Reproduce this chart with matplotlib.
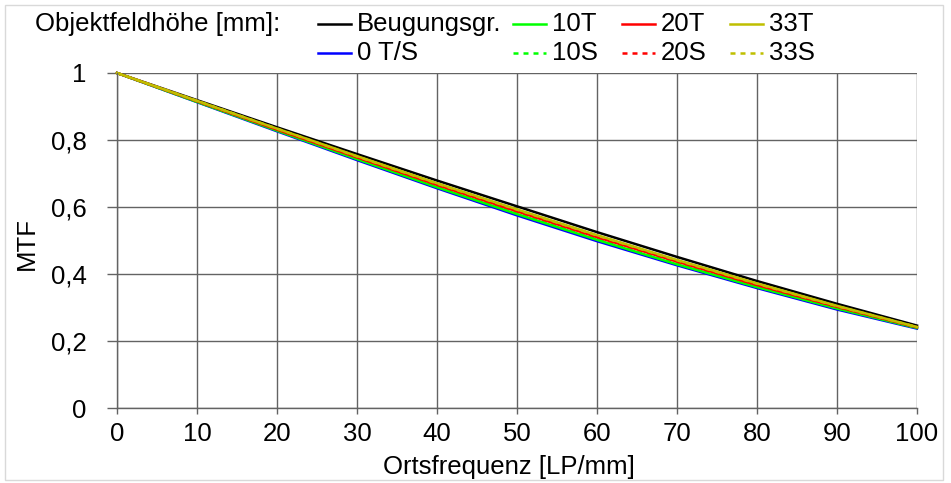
import matplotlib
matplotlib.use("Agg")
import matplotlib.pyplot as plt
from matplotlib.lines import Line2D
from matplotlib.patches import Rectangle

plt.rcParams['font.family'] = ['Liberation Sans', 'DejaVu Sans']

# spatial frequency [LP/mm]
freq = [0, 10, 20, 30, 40, 50, 60, 70, 80, 90, 100]

# MTF values
beugung = [1.0, 0.919, 0.838, 0.758, 0.679, 0.602, 0.525, 0.451, 0.379, 0.311, 0.246]
f0_ts = [1.0, 0.913, 0.826, 0.740, 0.656, 0.575, 0.498, 0.426, 0.358, 0.294, 0.237]
f10_t = [1.0, 0.914, 0.828, 0.743, 0.659, 0.579, 0.502, 0.429, 0.361, 0.297, 0.239]
f10_s = [1.0, 0.914, 0.829, 0.744, 0.661, 0.580, 0.503, 0.430, 0.362, 0.298, 0.239]
f20_t = [1.0, 0.916, 0.831, 0.748, 0.666, 0.587, 0.510, 0.437, 0.367, 0.302, 0.241]
f20_s = [1.0, 0.916, 0.832, 0.749, 0.667, 0.588, 0.511, 0.438, 0.368, 0.302, 0.241]
f33_t = [1.0, 0.917, 0.834, 0.752, 0.671, 0.593, 0.516, 0.442, 0.372, 0.305, 0.242]
f33_s = [1.0, 0.917, 0.834, 0.751, 0.670, 0.592, 0.515, 0.441, 0.371, 0.304, 0.242]

labels = ["Beugungsgr.", "0 T/S", "10T", "10S", "20T", "20S", "33T", "33S"]
series = [beugung, f0_ts, f10_t, f10_s, f20_t, f20_s, f33_t, f33_s]
colors = ["black", "#0000FF", "#00FF00", "#00FF00", "#FF0000", "#FF0000", "#BFBF00", "#BFBF00"]
styles = ["-", "-", "-", (0, (2, 2)), "-", (0, (2, 2)), "-", (0, (2, 2))]

yticks = [0, 0.2, 0.4, 0.6, 0.8, 1.0]
ytick_labels = ["0", "0,2", "0,4", "0,6", "0,8", "1"]
xticks = list(range(0, 101, 10))

W, H = 951, 483
fs = 18.5
fig = plt.figure(figsize=(W / 100, H / 100), dpi=100)
ax = fig.add_axes([117 / W, 1 - 408 / H, (917 - 117) / W, (408 - 73) / H])

for y, lab, c, ls in zip(series, labels, colors, styles):
    ax.plot(freq, y, color=c, linestyle=ls, lw=1.8, label=lab, clip_on=False)

gc = "#636363"
ax.set_xlim(0, 100)
ax.set_ylim(0, 1)
ax.set_xticks(xticks)
ax.set_yticks(yticks)
ax.set_yticklabels(ytick_labels)
ax.grid(True, color=gc, lw=1)
ax.set_axisbelow(True)
for s in ["top", "right"]:
    ax.spines[s].set_visible(False)
for s in ["left", "bottom"]:
    ax.spines[s].set_color(gc)
    ax.spines[s].set_linewidth(1)
ax.tick_params(axis="y", length=7, width=1, color=gc, pad=15, labelsize=fs)
ax.tick_params(axis="x", length=4, width=1, color=gc, pad=6, labelsize=fs)

ax.set_xlabel("Ortsfrequenz [LP/mm]", fontsize=fs, va="center")
ax.set_ylabel("MTF", fontsize=fs, va="center", ha="center")
ax.xaxis.set_label_coords(0.49, (408 - 467) / (408 - 73))
ax.yaxis.set_label_coords((27 - 117) / (917 - 117), 0.49)

# legend drawn by hand, Excel-style layout
def fx(px):
    return px / W

def fy(py):
    return 1 - py / H

fig.text(fx(35), fy(24), "Objektfeldhöhe [mm]:", fontsize=fs, va="center", ha="left")
col_x = [318, 513, 622, 730]
row_y = [24, 53]
for i, (lab, c, ls) in enumerate(zip(labels, colors, styles)):
    col, row = divmod(i, 2)
    x0 = col_x[col]
    y0 = row_y[row]
    fig.add_artist(Line2D([fx(x0), fx(x0 + 33)], [fy(y0), fy(y0)], color=c,
                          linestyle=ls, lw=1.8))
    fig.text(fx(x0 + 39), fy(y0), lab, fontsize=fs, va="center", ha="left")

fig.add_artist(Rectangle((fx(5), fy(480)), fx(943) - fx(5), fy(5) - fy(480),
                         fill=False, edgecolor="#D9D9D9", lw=1))

fig.savefig("out.png", dpi=100)
